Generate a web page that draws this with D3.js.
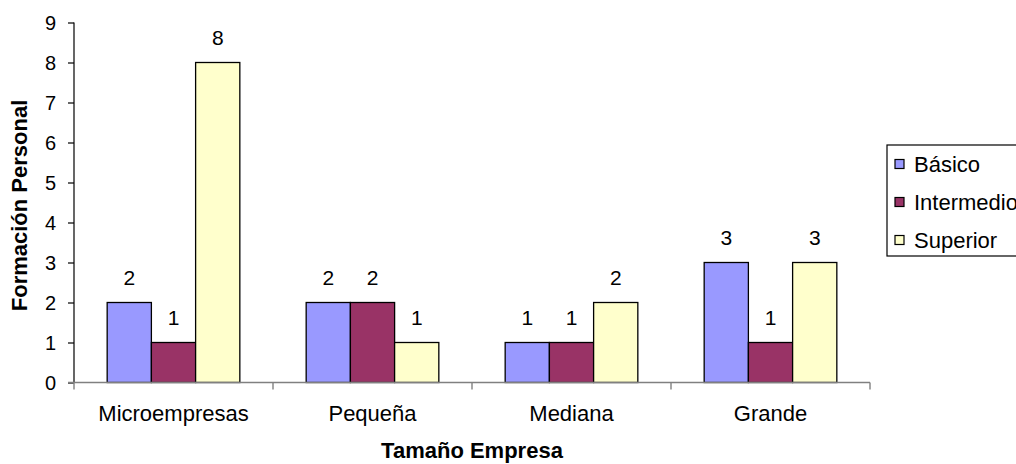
<!DOCTYPE html>
<html>
<head>
<meta charset="utf-8">
<script src="https://cdn.jsdelivr.net/npm/d3@7"></script>
<style>
  html, body { margin: 0; padding: 0; background: #fff; }
  svg { display: block; font-family: Arial, "Liberation Sans", sans-serif; }
</style>
</head>
<body>
<svg id="chart" width="1016" height="464"></svg>
<script>
// Company size categories and training level series
const categories = ["Microempresas", "Pequeña", "Mediana", "Grande"];
const seriesNames = ["Básico", "Intermedio", "Superior"];
const basico     = [2, 2, 1, 3];
const intermedio = [1, 2, 1, 1];
const superior   = [8, 1, 2, 3];
const yTicks = [0, 1, 2, 3, 4, 5, 6, 7, 8, 9];
const colors = ["#9999FF", "#993366", "#FFFFCC"];
const xTitle = "Tamaño Empresa";
const yTitle = "Formación Personal";

const seriesValues = [basico, intermedio, superior];
const rows = categories.map((c, i) => ({
  category: c,
  values: seriesNames.map((s, j) => ({ series: s, idx: j, value: seriesValues[j][i] }))
}));

const svg = d3.select("#chart");
const plotLeft = 74, plotRight = 870, plotTop = 22.5, plotBottom = 382.5;

const x = d3.scaleBand().domain(categories).range([plotLeft, plotRight]).paddingInner(0).paddingOuter(0);
// three bars plus a gap of 1.5 bar widths per category
const barW = x.bandwidth() / 4.5;
const xs = d3.scaleBand().domain(seriesNames)
  .range([barW * 0.75, barW * 3.75]).paddingInner(0).paddingOuter(0);
const y = d3.scaleLinear().domain([0, 9]).range([plotBottom, plotTop]);

// bars
const groups = svg.append("g").selectAll("g").data(rows).join("g")
  .attr("transform", d => `translate(${x(d.category)},0)`);

groups.selectAll("rect").data(d => d.values).join("rect")
  .attr("x", d => xs(d.series))
  .attr("y", d => y(d.value))
  .attr("width", xs.bandwidth())
  .attr("height", d => y(0) - y(d.value))
  .attr("fill", d => colors[d.idx])
  .attr("stroke", "#000")
  .attr("stroke-width", 1.3);

// value labels
groups.selectAll("text").data(d => d.values).join("text")
  .attr("x", d => xs(d.series) + xs.bandwidth() / 2)
  .attr("y", d => y(d.value) - 17.5)
  .attr("text-anchor", "middle")
  .attr("font-size", 21)
  .attr("fill", "#000")
  .text(d => d.value);

// y axis
const yAxis = svg.append("g")
  .attr("transform", `translate(${plotLeft},0)`)
  .call(d3.axisLeft(y).tickValues(yTicks).tickSize(6).tickPadding(12).tickFormat(d3.format("d")));
yAxis.select(".domain").attr("stroke", "#000").attr("stroke-width", 1.2).attr("d", `M0,${plotTop}V${plotBottom}`);
yAxis.selectAll(".tick line").attr("stroke", "#000").attr("stroke-width", 1.2);
yAxis.selectAll(".tick text").attr("font-size", 20).attr("font-family", "Arial, 'Liberation Sans', sans-serif")
  .attr("fill", "#000").attr("dy", "0.36em");

// x axis
const xAxis = svg.append("g")
  .attr("transform", `translate(0,${plotBottom})`)
  .call(d3.axisBottom(x).tickSize(0).tickPadding(0));
xAxis.select(".domain").attr("stroke", "#808080").attr("stroke-width", 1.4).attr("d", `M${plotLeft - 6},0H${plotRight}`);
xAxis.selectAll(".tick text").attr("font-size", 22).attr("font-family", "Arial, 'Liberation Sans', sans-serif")
  .attr("fill", "#000").attr("y", 38.5).attr("dy", 0);
// category boundary ticks
const boundaries = categories.map(c => x(c)).concat([plotRight]);
xAxis.selectAll("line.sep").data(boundaries).join("line").attr("class", "sep")
  .attr("x1", d => d).attr("x2", d => d).attr("y1", 0).attr("y2", 7)
  .attr("stroke", "#808080").attr("stroke-width", 1.4);

// axis titles
svg.append("text")
  .attr("x", (plotLeft + plotRight) / 2).attr("y", 458)
  .attr("text-anchor", "middle").attr("font-size", 22).attr("font-weight", "bold")
  .text(xTitle);
svg.append("text")
  .attr("transform", `translate(27,${(plotTop + plotBottom) / 2 + 3}) rotate(-90)`)
  .attr("text-anchor", "middle").attr("font-size", 22).attr("font-weight", "bold")
  .text(yTitle);

// legend
const legend = svg.append("g").attr("transform", "translate(887,145)");
legend.append("rect").attr("x", 0).attr("y", 0).attr("width", 150).attr("height", 111)
  .attr("fill", "#fff").attr("stroke", "#000").attr("stroke-width", 1.2);
const items = legend.selectAll("g.item").data(seriesNames).join("g").attr("class", "item")
  .attr("transform", (d, i) => `translate(0,${19 + i * 38})`);
items.append("rect").attr("x", 8).attr("y", -4.5).attr("width", 9).attr("height", 9)
  .attr("fill", (d, i) => colors[i]).attr("stroke", "#000").attr("stroke-width", 1.2);
items.append("text").attr("x", 27).attr("y", 0).attr("dy", "0.36em")
  .attr("font-size", 22).text(d => d);
</script>
</body>
</html>
